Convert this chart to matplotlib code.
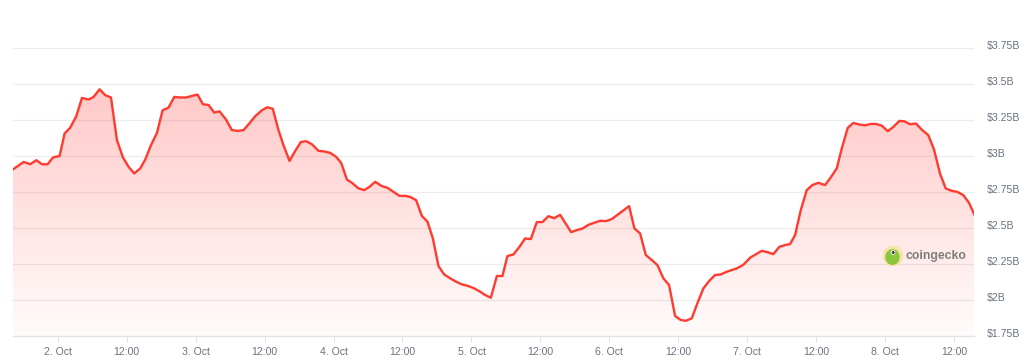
import numpy as np
import matplotlib
matplotlib.use("Agg")
import matplotlib.pyplot as plt
from matplotlib.patches import Polygon, Circle, Ellipse
import matplotlib.transforms as mtransforms

# hours since 2 Oct 00:00
hours = [-7.76, -5.91, -4.75, -3.70, -2.71, -1.74, -0.80, 0.35, 1.22, 2.21, 3.25, 4.24, 5.39, 6.26, 7.30,
         8.30, 9.29, 10.33, 11.37, 12.35, 13.34, 14.38, 15.25, 16.24, 17.29, 18.26, 19.30, 20.30, 21.34,
         22.33, 23.37, 24.35, 25.29, 26.26, 27.25, 28.17, 29.29, 30.33, 31.30, 32.35, 33.34, 34.38, 35.55,
         36.47, 37.43, 38.43, 39.30, 40.35, 41.34, 42.33, 43.25, 44.24, 45.39, 46.38, 47.43, 48.47, 49.34,
         50.33, 51.20, 52.35, 53.34, 54.26, 55.25, 56.42, 57.39, 58.43, 59.48, 60.47, 61.34, 62.38, 63.37,
         64.35, 65.29, 66.26, 67.25, 68.30, 69.34, 70.33, 71.48, 72.47, 73.51, 74.38, 75.37, 76.42, 77.39,
         78.26, 79.30, 80.35, 81.34, 82.33, 83.37, 84.35, 85.39, 86.38, 87.43, 89.34, 90.33, 91.37, 92.35,
         93.34, 94.38, 95.43, 96.42, 99.43, 100.35, 101.34, 102.33, 103.37, 104.35, 105.39, 106.38, 107.43,
         108.42, 109.34, 110.33, 111.30, 112.35, 113.34, 114.38, 115.37, 116.42, 118.16, 119.30, 120.47,
         121.51, 122.50, 123.48, 124.52, 125.57, 126.56, 127.43, 128.30, 129.29, 130.33, 131.30, 132.35,
         133.51, 134.50, 135.55, 136.42, 137.46, 138.43, 139.48, 140.47, 141.46, 142.38, 143.37, 144.42,
         145.39, 146.43, 147.30, 148.30, 149.34, 150.33, 151.48, 152.47, 153.51, 154.50, 155.55, 156.52,
         157.57, 158.56, 159.48]

volume_b = [2.908, 2.960, 2.944, 2.972, 2.944, 2.944, 2.991, 3.002, 3.158, 3.199, 3.278, 3.405, 3.394, 3.412, 3.465,
            3.424, 3.408, 3.111, 2.991, 2.926, 2.880, 2.915, 2.977, 3.076, 3.162, 3.319, 3.338, 3.412, 3.408,
            3.408, 3.419, 3.428, 3.361, 3.356, 3.303, 3.312, 3.255, 3.181, 3.176, 3.181, 3.227, 3.278, 3.319,
            3.340, 3.330, 3.181, 3.076, 2.967, 3.037, 3.099, 3.104, 3.083, 3.037, 3.033, 3.023, 2.995, 2.953,
            2.838, 2.815, 2.776, 2.764, 2.787, 2.822, 2.792, 2.780, 2.752, 2.724, 2.724, 2.717, 2.694, 2.585,
            2.544, 2.428, 2.236, 2.178, 2.151, 2.127, 2.109, 2.097, 2.081, 2.058, 2.035, 2.016, 2.167, 2.167,
            2.306, 2.317, 2.370, 2.428, 2.424, 2.542, 2.542, 2.583, 2.569, 2.592, 2.472, 2.486, 2.498, 2.523,
            2.537, 2.551, 2.549, 2.563, 2.653, 2.498, 2.463, 2.313, 2.278, 2.243, 2.151, 2.104, 1.889,
            1.861, 1.856, 1.873, 1.977, 2.081, 2.132, 2.174, 2.178, 2.197, 2.220, 2.245, 2.294,
            2.319, 2.342, 2.333, 2.319, 2.370, 2.382, 2.389, 2.451, 2.625, 2.764, 2.799, 2.815,
            2.799, 2.852, 2.915, 3.053, 3.197, 3.231, 3.220, 3.215, 3.224, 3.224, 3.213, 3.174,
            3.203, 3.245, 3.243, 3.222, 3.227, 3.185, 3.146, 3.047, 2.880, 2.776, 2.759, 2.752,
            2.729, 2.676, 2.595]

xtick_hours = [0, 12, 24, 36, 48, 60, 72, 84, 96, 108, 120, 132, 144, 156]
xtick_labels = ["2. Oct", "12:00", "3. Oct", "12:00", "4. Oct", "12:00", "5. Oct", "12:00",
                "6. Oct", "12:00", "7. Oct", "12:00", "8. Oct", "12:00"]
ytick_values = [1.75, 2.0, 2.25, 2.5, 2.75, 3.0, 3.25, 3.5, 3.75]
ytick_labels = ["$1.75B", "$2B", "$2.25B", "$2.5B", "$2.75B", "$3B", "$3.25B", "$3.5B", "$3.75B"]

plt.rcParams['font.family'] = ['Liberation Sans', 'DejaVu Sans']

W, H = 1024, 361
fig = plt.figure(figsize=(W / 100, H / 100), dpi=100)
left, right = 13 / W, 974.3 / W
bottom, top = (H - 336) / H, (H - 48.3) / H
ax = fig.add_axes([left, bottom, right - left, top - bottom])

x = np.array(hours)
y = np.array(volume_b)
ymin, ymax = 1.75, 3.75
ax.set_xlim(x[0], x[-1])
ax.set_ylim(ymin, ymax)

# grid
for v in ytick_values[1:]:
    ax.axhline(v, color="#ececec", lw=0.9, zorder=0)
ax.axhline(ymin, color="#e3e3e3", lw=1.0, zorder=0, clip_on=False)

# gradient fill
grad = np.linspace(1, 0, 256).reshape(-1, 1)
rgba = np.zeros((256, 1, 4))
rgba[..., 0] = 1.0
rgba[..., 1] = 0.24
rgba[..., 2] = 0.22
rgba[..., 3] = 0.02 + 0.30 * grad
im = ax.imshow(rgba, extent=[x[0], x[-1], ymin, ymax], aspect="auto", origin="upper",
               zorder=1, interpolation="bilinear")
poly_xy = np.vstack([np.column_stack([x, y]), [[x[-1], ymin], [x[0], ymin]]])
poly = Polygon(poly_xy, closed=True, facecolor="none", edgecolor="none", transform=ax.transData)
ax.add_patch(poly)
im.set_clip_path(poly)

ax.plot(x, y, color="#ff3b30", lw=1.7, zorder=3, solid_joinstyle="round")

for s in ax.spines.values():
    s.set_visible(False)

ax.set_xticks(xtick_hours)
ax.set_xticklabels(xtick_labels)
ax.tick_params(axis="x", length=4, color="#dde1e8", labelsize=7.6, labelcolor="#6b7380", pad=4)
ax.set_yticks([])
ax.tick_params(axis="y", length=0)

# y labels on right, slightly above gridlines
offset = mtransforms.ScaledTranslation(0, 2.5 / 100, fig.dpi_scale_trans)
trans = mtransforms.blended_transform_factory(fig.transFigure, ax.transData) + offset
for v, lab in zip(ytick_values, ytick_labels):
    fig.text(987 / W, v, lab, transform=trans, ha="left", va="center", fontsize=7.6, color="#6b7380")

# coingecko watermark
cx, cy = 893 / W, (H - 256) / H
logo_ax = fig.add_axes([(893 - 10) / W, (H - 266) / H, 20 / W, 20 / H])
logo_ax.set_xlim(-1, 1)
logo_ax.set_ylim(-1, 1)
logo_ax.axis("off")
logo_ax.add_patch(Circle((0, 0), 0.95, color="#f6e3a1", alpha=0.9))
logo_ax.add_patch(Ellipse((-0.05, -0.1), 1.3, 1.45, color="#8cc63f"))
logo_ax.add_patch(Circle((0.0, 0.35), 0.16, color="white"))
logo_ax.add_patch(Circle((0.02, 0.35), 0.08, color="#3a3a3a"))
fig.text(906 / W, (H - 256) / H, "coingecko", ha="left", va="center", fontsize=8.8,
         fontweight="bold", color="#6a6a6a", alpha=0.85)

fig.savefig("out.png", dpi=100, facecolor="white")
